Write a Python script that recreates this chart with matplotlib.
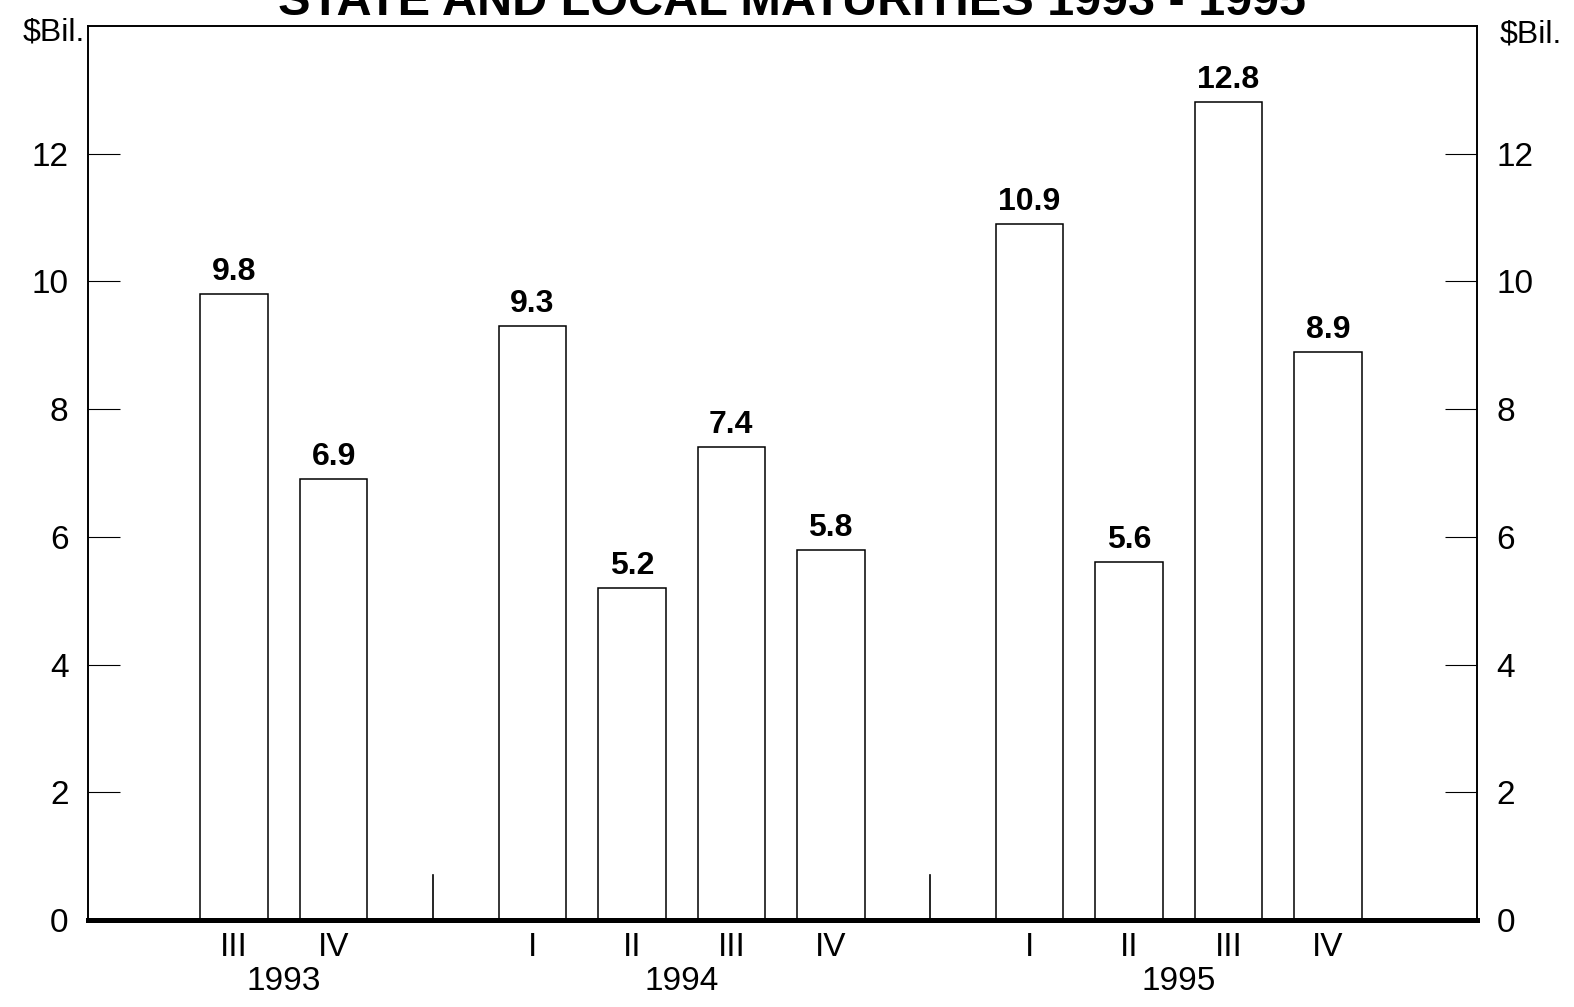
import matplotlib.pyplot as plt

plt.rcParams['font.family'] = ['Liberation Sans', 'DejaVu Sans']

# Quarterly maturities, $ billions
quarters = ['III', 'IV', 'I', 'II', 'III', 'IV', 'I', 'II', 'III', 'IV']
values = [9.8, 6.9, 9.3, 5.2, 7.4, 5.8, 10.9, 5.6, 12.8, 8.9]
slots = [0, 1, 3, 4, 5, 6, 8, 9, 10, 11]   # gaps at 2 and 7 separate the years
separators = [2, 7]
years = ['1993', '1994', '1995']
year_centers = [0.5, 4.5, 9.5]

fig = plt.figure(figsize=(15.74, 10.07), dpi=100)
ax = fig.add_axes([0.0559, 0.0864, 0.8825, 0.888])

bars = ax.bar(slots, values, width=0.68, color='white', edgecolor='black',
              linewidth=1.1, zorder=2)

# value labels above each bar
for x, v in zip(slots, values):
    ax.annotate(f'{v:.1f}', (x, v), xytext=(0, 5), textcoords='offset points',
                ha='center', va='bottom', fontsize=23, fontweight='bold')

# short dividers between the years
for s in separators:
    ax.plot([s, s], [0, 0.7], color='black', linewidth=1.2, zorder=2)

ax.set_xlim(-1.47, 12.5)
ax.set_ylim(0, 14)

ax.set_xticks(slots)
ax.set_xticklabels(quarters, fontsize=24)
ax.tick_params(axis='x', length=0, pad=9)

ax.set_yticks(range(0, 13, 2))
ax.tick_params(axis='y', direction='in', length=23, width=0.8,
               left=True, right=True, labelleft=True, labelright=True,
               labelsize=24, pad=14)

for side in ['left', 'right', 'top']:
    ax.spines[side].set_linewidth(1.4)
ax.spines['bottom'].set_linewidth(3.6)

# year labels under the quarter numerals
for yr, xc in zip(years, year_centers):
    ax.text(xc, -0.069, yr, transform=ax.get_xaxis_transform(),
            ha='center', va='center', fontsize=24)

ax.text(-0.002, 0.993, '$Bil.', transform=ax.transAxes, ha='right',
        va='center', fontsize=23)
ax.text(1.016, 0.99, '$Bil.', transform=ax.transAxes, ha='left',
        va='center', fontsize=23)

fig.text(0.503, 0.985, 'STATE AND LOCAL MATURITIES 1993 - 1995',
         ha='center', va='baseline', fontsize=35, fontweight='bold')

fig.savefig('out.png', dpi=100)
